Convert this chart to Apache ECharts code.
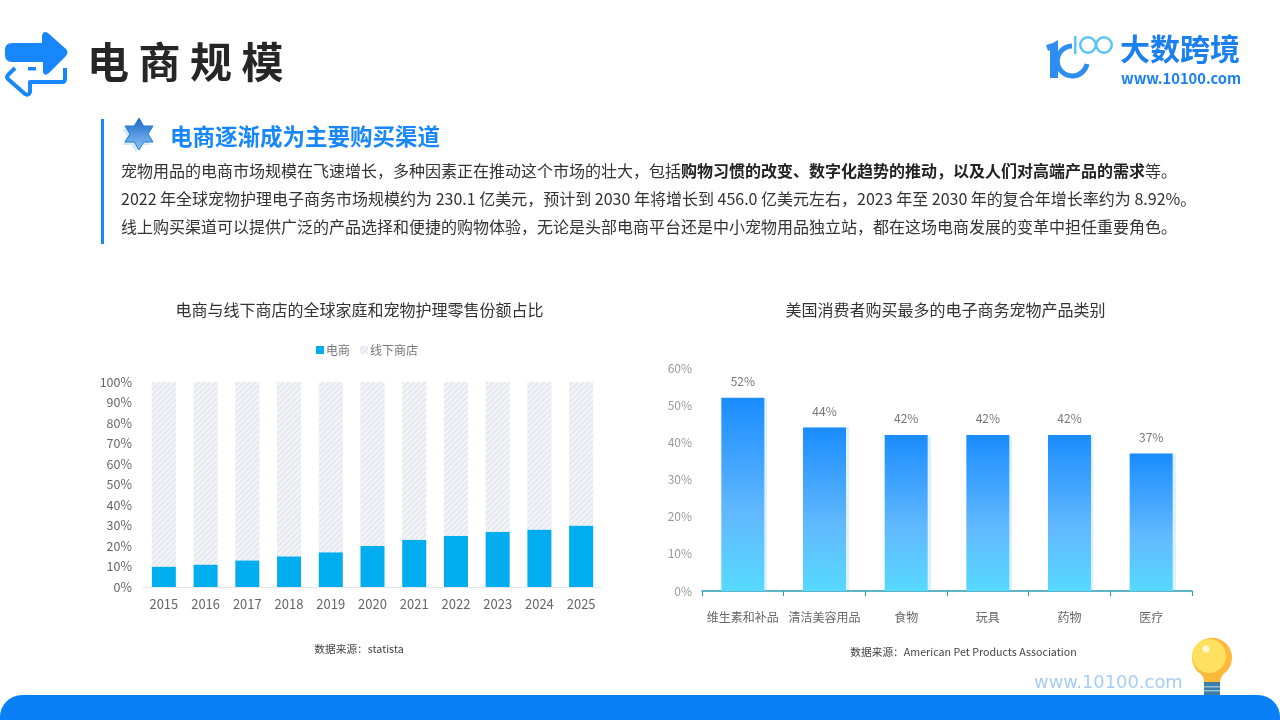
<!DOCTYPE html>
<html>
<head>
<meta charset="utf-8">
<title>电商规模</title>
<script src="https://cdn.jsdelivr.net/npm/echarts@6/dist/echarts.min.js"></script>
<style>
html, body { margin: 0; padding: 0; background: #fff; }
#main { width: 1280px; height: 720px; }
</style>
</head>
<body>
<div id="main"></div>
<script>
var years = ['2015', '2016', '2017', '2018', '2019', '2020', '2021', '2022', '2023', '2024', '2025'];
var onlineShare = [10, 11, 13, 15, 17, 20, 23, 25, 27, 28, 30];
var offlineShare = [90, 89, 87, 85, 83, 80, 77, 75, 73, 72, 70];
var petCategories = ['维生素和补品', '清洁美容用品', '食物', '玩具', '药物', '医疗'];
var petValues = [52, 44, 42, 42, 42, 37];

var cjk = '"Noto Sans CJK SC", "Noto Sans", sans-serif';
var chart = echarts.init(document.getElementById('main'));

// 普通文字
function label(x, y, text, size, color, weight, align, family) {
    return {
        type: 'text', x: x, y: y,
        style: {
            text: text, fontSize: size, fill: color, fontFamily: family || cjk,
            fontWeight: weight || 'normal', align: align || 'left', verticalAlign: 'middle'
        }
    };
}

// svg 路径注册成图形
var pathCount = 0;
function pathEl(d, style) {
    var name = 'deco' + (pathCount++);
    echarts.graphic.registerShape(name, echarts.graphic.extendPath(d, {}));
    return { type: name, style: style };
}

var starPath = 'M139 118 L143.6 126 L153 126 L148 134 L153 142 L143.6 142 L139 150 L134.4 142 L125 142 L130 134 L125 126 L134.4 126 Z';
var starShadow = 'M136 121 L140.6 129 L150 129 L145 137 L150 145 L140.6 145 L136 153 L131.4 145 L122 145 L127 137 L122 129 L131.4 129 Z';

// 装饰：标题箭头、logo、灯泡等
var decorations = [
    // 左上箭头
    pathEl('M5 50 Q5 43 12 43 L42 43 L42 36 Q43 30 48 33 L66 49 Q69 52 66 56 L49 73 Q44 77 43 72 L43 62 L12 62 Q5 62 5 55 Z', { fill: '#1787fb' }),
    pathEl('M15 68 L8 75 Q6 77 8 79 L25 94 Q29 96 30 92 L30 82 L62 82 Q65 82 65 79 L65 68', { fill: 'none', stroke: '#1787fb', lineWidth: 4, lineJoin: 'round' }),
    { type: 'rect', shape: { x: 28, y: 67, width: 8, height: 3.5 }, style: { fill: '#1787fb' } },
    label(87, 62, '电 商 规 模', 42, '#262626', 'bold'),

    // 右上 logo
    pathEl('M1046 45 L1053 43 L1058 40 L1058 78 L1050 78 L1050 50 L1048 51 Z', { fill: '#2d8df0' }),
    pathEl('M1072 46 A15 15 0 1 0 1087 64', { fill: 'none', stroke: '#2d8df0', lineWidth: 5 }),
    { type: 'rect', shape: { x: 1074, y: 36, width: 2.5, height: 18 }, style: { fill: '#5cc3f5' } },
    { type: 'ring', shape: { cx: 1088, cy: 45, r: 9, r0: 6.5 }, style: { fill: '#5cc3f5' } },
    { type: 'ring', shape: { cx: 1104, cy: 45, r: 9, r0: 6.5 }, style: { fill: '#5cc3f5' } },
    label(1120, 49, '大数跨境', 30, '#1a7ff0', 'bold'),
    label(1121, 78, 'www.10100.com', 14.7, '#1a7ff0', 'bold'),

    // 小标题
    { type: 'rect', shape: { x: 101, y: 119, width: 3, height: 125 }, style: { fill: '#1787fb' } },
    pathEl(starShadow, { fill: '#d3e9fb' }),
    pathEl(starPath, {
        fill: new echarts.graphic.LinearGradient(0, 0, 0, 1, [{ offset: 0, color: '#1a66c8' }, { offset: 1, color: '#8cc8f5' }]),
        stroke: '#1f78d8', lineWidth: 1
    }),
    label(170, 136, '电商逐渐成为主要购买渠道', 22.5, '#1787fb', 'bold'),

    // 正文
    {
        type: 'text', x: 121, y: 171,
        style: {
            text: '{n|宠物用品的电商市场规模在飞速增长，多种因素正在推动这个市场的壮大，包括}{b|购物习惯的改变、数字化趋势的推动，以及人们对高端产品的需求}{n|等。}',
            verticalAlign: 'middle',
            rich: {
                n: { fontSize: 16, fill: '#333', fontFamily: cjk },
                b: { fontSize: 16, fill: '#222', fontFamily: cjk, fontWeight: 'bold' }
            }
        }
    },
    label(121, 199, '2022 年全球宠物护理电子商务市场规模约为 230.1 亿美元，预计到 2030 年将增长到 456.0 亿美元左右，2023 年至 2030 年的复合年增长率约为 8.92%。', 16, '#333'),
    label(121, 227, '线上购买渠道可以提供广泛的产品选择和便捷的购物体验，无论是头部电商平台还是中小宠物用品独立站，都在这场电商发展的变革中担任重要角色。', 16, '#333'),

    // 图表标题与来源
    label(359.5, 310, '电商与线下商店的全球家庭和宠物护理零售份额占比', 16, '#333', 'normal', 'center'),
    label(945.5, 310, '美国消费者购买最多的电子商务宠物产品类别', 16, '#333', 'normal', 'center'),
    label(359, 649, '数据来源：statista', 10.7, '#444', 'normal', 'center'),
    label(963.5, 652, '数据来源：American Pet Products Association', 10.7, '#444', 'normal', 'center'),

    // 底部
    { type: 'rect', shape: { x: 0, y: 695, width: 1280, height: 30, r: [22, 22, 0, 0] }, style: { fill: '#0a80f7' } },
    label(1034, 683, 'www.10100.com', 17.9, '#a6cdf3', 'normal', 'left', '"DejaVu Sans"'),

    // 灯泡
    pathEl('M1204 682 Q1204 675 1198 672 A20 20 0 1 1 1226 672 Q1221 675 1220 682 Z', { fill: '#fdb93a' }),
    { type: 'circle', shape: { cx: 1209, cy: 656, r: 17 }, style: { fill: '#ffe05f' } },
    { type: 'circle', shape: { cx: 1206, cy: 649, r: 3.5 }, style: { fill: '#fff7d8' } },
    { type: 'rect', shape: { x: 1204, y: 682, width: 16, height: 13 }, style: { fill: '#3a7ea8' } },
    { type: 'rect', shape: { x: 1204, y: 686, width: 16, height: 1.5 }, style: { fill: '#8fc0dc' } },
    { type: 'rect', shape: { x: 1204, y: 690, width: 16, height: 1.5 }, style: { fill: '#8fc0dc' } }
];

var option = {
    animation: false,
    backgroundColor: '#fff',
    textStyle: { fontFamily: cjk },
    graphic: { elements: decorations },
    legend: {
        left: 311, top: 339,
        itemWidth: 8, itemHeight: 8, itemGap: 10,
        icon: 'rect',
        textStyle: { fontSize: 12, color: '#777', fontFamily: cjk, padding: [0, 0, 0, -3] },
        data: ['电商', '线下商店']
    },
    grid: [
        { left: 143, top: 382, width: 459, height: 205 },
        { left: 702, top: 368, width: 490, height: 223 }
    ],
    xAxis: [
        {
            type: 'category', gridIndex: 0, data: years,
            axisLine: { lineStyle: { color: '#e4e6ea' } },
            axisTick: { show: false },
            axisLabel: { fontSize: 13, color: '#666', margin: 11 }
        },
        {
            type: 'category', gridIndex: 1, data: petCategories,
            axisLine: { lineStyle: { color: '#2a9db5', width: 1.5 } },
            axisTick: { show: true, length: 5, lineStyle: { color: '#2a9db5' } },
            axisLabel: { fontSize: 12, color: '#666', margin: 20, interval: 0 }
        }
    ],
    yAxis: [
        {
            type: 'value', gridIndex: 0, min: 0, max: 100, interval: 10,
            axisLine: { show: false }, axisTick: { show: false }, splitLine: { show: false },
            axisLabel: { fontSize: 12.5, color: '#666', formatter: '{value}%', margin: 11 }
        },
        {
            type: 'value', gridIndex: 1, min: 0, max: 60, interval: 10,
            axisLine: { show: false }, axisTick: { show: false }, splitLine: { show: false },
            axisLabel: { fontSize: 12, color: '#999', formatter: '{value}%', margin: 10 }
        }
    ],
    series: [
        {
            name: '电商', type: 'bar', stack: 'share', xAxisIndex: 0, yAxisIndex: 0,
            barWidth: 24, data: onlineShare,
            itemStyle: { color: '#00aeef' }
        },
        {
            name: '线下商店', type: 'bar', stack: 'share', xAxisIndex: 0, yAxisIndex: 0,
            barWidth: 24, data: offlineShare,
            itemStyle: {
                color: '#e6e8ef',
                decal: { symbol: 'rect', symbolSize: 1, dashArrayX: [1, 0], dashArrayY: [2, 2], rotation: -0.785, color: '#f4f5f8' }
            }
        },
        {
            name: '产品类别', type: 'bar', xAxisIndex: 1, yAxisIndex: 1,
            barWidth: 43, data: petValues,
            itemStyle: {
                color: new echarts.graphic.LinearGradient(0, 0, 0, 1, [
                    { offset: 0, color: '#1a8cff' },
                    { offset: 0.6, color: '#62b9fe' },
                    { offset: 1, color: '#56d9ff' }
                ]),
                shadowColor: 'rgba(90,190,250,0.2)', shadowBlur: 1, shadowOffsetX: 3
            },
            label: { show: true, position: 'top', distance: 10, fontSize: 12, color: '#777', formatter: '{c}%' }
        }
    ]
};

chart.setOption(option);

// 窗口大小变化时重绘
window.addEventListener('resize', function() {
    chart && chart.resize();
});
</script>
</body>
</html>
